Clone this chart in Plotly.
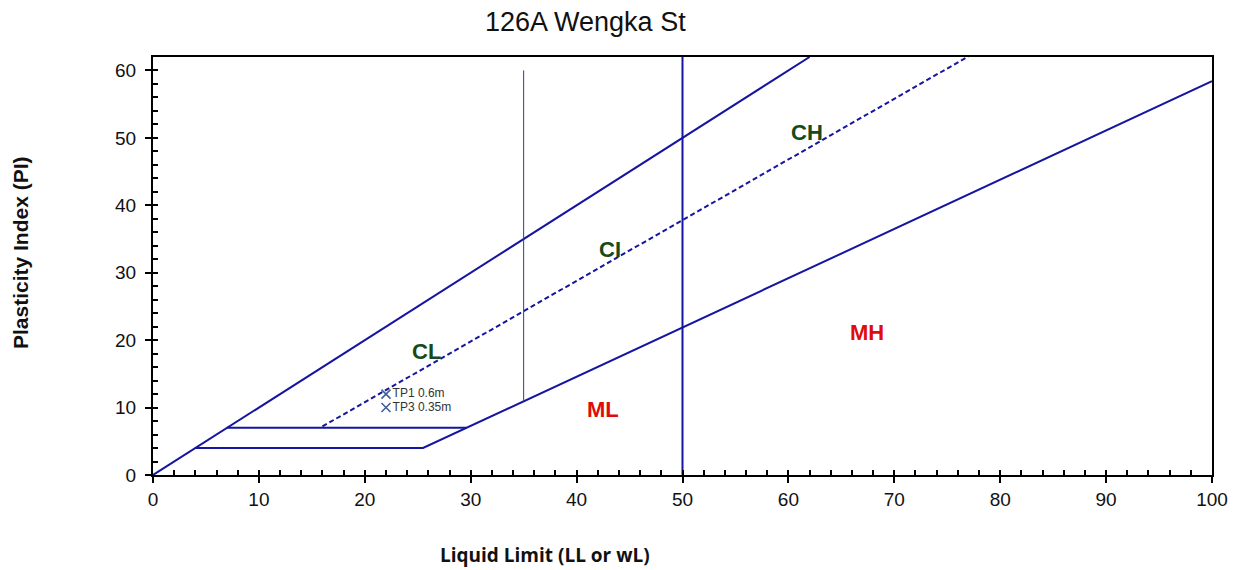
import plotly.graph_objects as go

# Data
upper_x = [0, 62]
upper_y = [0, 62]
a_line_x = [4, 25.5, 100]
a_line_y = [4, 4, 58.4]
u_dash_x = [16, 77]
u_dash_y = [7.2, 62.1]
h7_x = [7, 29.6]
h7_y = [7, 7]
v35_x = [35, 35]
v35_y = [11, 60]
v50_x = [50, 50]
v50_y = [0, 62]

samples = ["TP1 0.6m", "TP3 0.35m"]
sample_ll = [22, 22]
sample_pi = [12, 10]

zone_labels = ["CL", "CI", "CH", "ML", "MH"]
zone_x = [25.8, 43.2, 61.8, 42.5, 67.4]
zone_y = [18.3, 33.4, 50.8, 9.7, 21.1]
zone_colors = ["#164a16", "#164a16", "#164a16", "#e00c0c", "#e00c0c"]

x_range = [0, 100]
y_range = [0, 62]

line_col = "#1515a0"
FONT = "Arial"

fig = go.Figure()

def add_line(x, y, width=2, dash="solid", color=line_col):
    fig.add_trace(go.Scatter(x=x, y=y, mode="lines", line=dict(color=color, width=width, dash=dash),
                             showlegend=False, hoverinfo="skip"))

add_line(upper_x, upper_y)
add_line(a_line_x, a_line_y)
add_line(u_dash_x, u_dash_y, dash="5px,3px")
add_line(h7_x, h7_y)
add_line(v35_x, v35_y, width=1, color="#2a3aa0")
add_line(v50_x, v50_y)

fig.add_trace(go.Scatter(x=sample_ll, y=sample_pi, mode="markers+text", text=samples,
                         textposition="middle right",
                         textfont=dict(family=FONT, size=12, color="#333333"),
                         marker=dict(symbol="x-thin", size=9, line=dict(color="#3b5b9b", width=1.5)),
                         showlegend=False))

# invisible trace for inside-tick overlay axes
fig.add_trace(go.Scatter(x=x_range, y=y_range, mode="markers", marker=dict(opacity=0),
                         xaxis="x2", yaxis="y2", showlegend=False, hoverinfo="skip"))

for lab, x, y, c in zip(zone_labels, zone_x, zone_y, zone_colors):
    fig.add_annotation(x=x, y=y, text="<b>%s</b>" % lab, showarrow=False,
                       font=dict(family=FONT, size=22, color=c))

fig.add_annotation(x=0.408, y=1.0, xref="paper", yref="paper", yshift=35, yanchor="middle",
                   xanchor="center", text="126A Wengka St", showarrow=False,
                   font=dict(family=FONT, size=27, color="#111111"))
fig.add_annotation(x=0.37, y=0, xref="paper", yref="paper", yshift=-80, yanchor="middle",
                   xanchor="center", text="<b>Liquid Limit (LL or wL)</b>", showarrow=False,
                   font=dict(family="Open Sans", size=19, color="#111111"))
fig.add_annotation(x=0, y=0.531, xref="paper", yref="paper", xshift=-133, xanchor="center",
                   yanchor="middle", text="<b>Plasticity Index (PI)</b>", showarrow=False,
                   textangle=-90, font=dict(family=FONT, size=21, color="#111111"))

axis_common = dict(showgrid=False, zeroline=False, showline=True, linecolor="black", linewidth=2,
                   mirror=True, ticks="outside", ticklen=6, tickwidth=2, tickcolor="black",
                   tickfont=dict(family=FONT, size=19, color="#111111"))

fig.update_layout(
    width=1238, height=570, plot_bgcolor="white", paper_bgcolor="white",
    margin=dict(l=145, r=34, t=49, b=103),
    xaxis=dict(range=x_range, dtick=10, ticklabelstandoff=0, **axis_common),
    yaxis=dict(range=y_range, dtick=10, ticklabelstandoff=5, **axis_common),
    xaxis2=dict(range=x_range, overlaying="x", side="bottom", anchor="y2", dtick=2,
                showticklabels=False, showgrid=False, zeroline=False, showline=False,
                ticks="inside", ticklen=5, tickwidth=1.5, tickcolor="black"),
    yaxis2=dict(range=y_range, overlaying="y", side="left", anchor="x2", dtick=2,
                showticklabels=False, showgrid=False, zeroline=False, showline=False,
                ticks="inside", ticklen=5, tickwidth=1.5, tickcolor="black"),
)

fig.write_html("out.html")
